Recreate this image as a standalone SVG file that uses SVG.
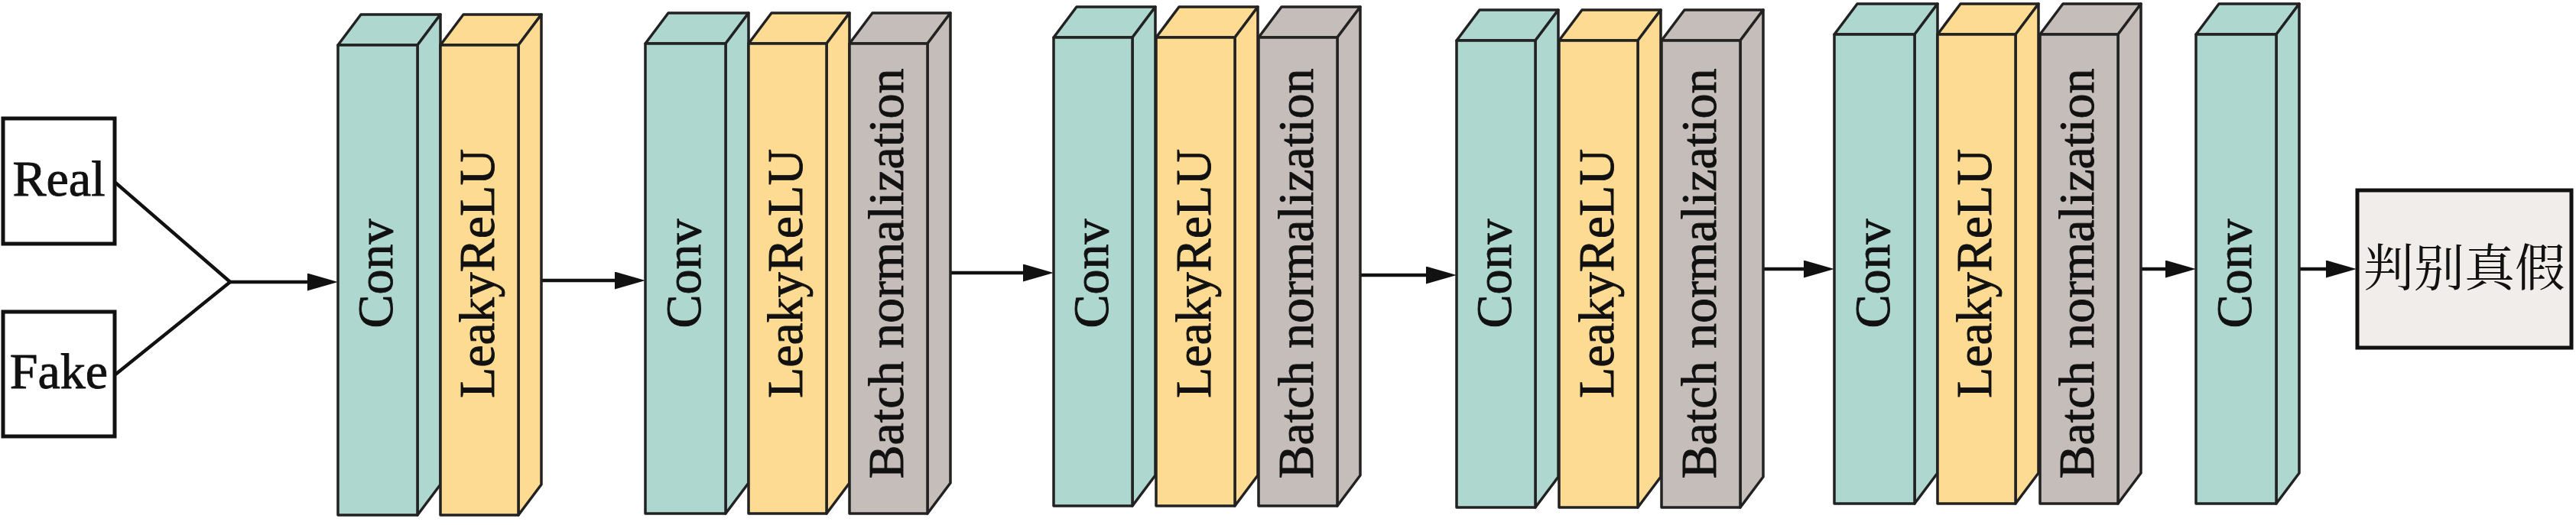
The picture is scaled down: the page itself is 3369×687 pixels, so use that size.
<svg xmlns="http://www.w3.org/2000/svg" width="3369" height="687" viewBox="0 0 3369 687">
<style>
.teal{fill:#add7cf}
.yel{fill:#fddb92}
.gry{fill:#c5bdba}
.blk rect,.blk polygon{stroke:#222;stroke-width:3.5;stroke-linejoin:round}
.lbl{font-family:"Liberation Serif","Times New Roman",serif;font-size:66px;fill:#111;stroke:#111;stroke-width:0.9;text-anchor:middle}
.io{fill:#fff;stroke:#111;stroke-width:5}
.con{stroke:#111;stroke-width:4.5;fill:none}
</style>
<defs>
<marker id="ah" markerUnits="userSpaceOnUse" markerWidth="40" markerHeight="24" refX="20" refY="11.5" orient="auto">
<path d="M0,0 L40,11.5 L0,23 Z" fill="#111"/>
</marker>
</defs>
<rect width="3369" height="687" fill="#fff"/>

<g id="real"><rect class="io" x="4" y="155" width="146" height="164"/><text class="lbl" x="77" y="256">Real</text></g>
<g id="fake"><rect class="io" x="4" y="408" width="146" height="163"/><text class="lbl" x="77" y="508">Fake</text></g>

<g id="connectors">
<polyline class="con" points="151,239 301,369 151,490"/>
<line class="con" x1="299" y1="369" x2="422" y2="369" marker-end="url(#ah)"/>
<line class="con" x1="708" y1="367" x2="824" y2="367" marker-end="url(#ah)"/>
<line class="con" x1="1243" y1="357" x2="1358" y2="357" marker-end="url(#ah)"/>
<line class="con" x1="1779" y1="360" x2="1885" y2="360" marker-end="url(#ah)"/>
<line class="con" x1="2306" y1="352" x2="2379" y2="352" marker-end="url(#ah)"/>
<line class="con" x1="2800" y1="352" x2="2852" y2="352" marker-end="url(#ah)"/>
<line class="con" x1="3007" y1="352" x2="3062" y2="352" marker-end="url(#ah)"/>
</g>

<g id="conv1" class="blk teal"><polygon points="442,59 472,19 576,19 546,59"/><polygon points="546,59 576,19 576,634 546,674"/><rect x="442" y="59" width="104" height="615"/><text class="lbl" transform="translate(513,358) rotate(-90)">Conv</text></g>
<g id="lrelu1" class="blk yel"><polygon points="576,59 606,19 708,19 678,59"/><polygon points="678,59 708,19 708,634 678,674"/><rect x="576" y="59" width="102" height="615"/><text class="lbl" transform="translate(646,358) rotate(-90)">LeakyReLU</text></g>

<g id="conv2" class="blk teal"><polygon points="844,57 874,17 979,17 949,57"/><polygon points="949,57 979,17 979,632 949,672"/><rect x="844" y="57" width="105" height="615"/><text class="lbl" transform="translate(915.5,358) rotate(-90)">Conv</text></g>
<g id="lrelu2" class="blk yel"><polygon points="979,57 1009,17 1111,17 1081,57"/><polygon points="1081,57 1111,17 1111,632 1081,672"/><rect x="979" y="57" width="102" height="615"/><text class="lbl" transform="translate(1049,358) rotate(-90)">LeakyReLU</text></g>
<g id="bn2" class="blk gry"><polygon points="1111,57 1141,17 1243,17 1213,57"/><polygon points="1213,57 1243,17 1243,632 1213,672"/><rect x="1111" y="57" width="102" height="615"/><text class="lbl" transform="translate(1181,358) rotate(-90)">Batch normalization</text></g>

<g id="conv3" class="blk teal"><polygon points="1378,49 1408,9 1511,9 1481,49"/><polygon points="1481,49 1511,9 1511,622 1481,662"/><rect x="1378" y="49" width="103" height="613"/><text class="lbl" transform="translate(1448.5,358) rotate(-90)">Conv</text></g>
<g id="lrelu3" class="blk yel"><polygon points="1512,49 1542,9 1645,9 1615,49"/><polygon points="1615,49 1645,9 1645,622 1615,662"/><rect x="1512" y="49" width="103" height="613"/><text class="lbl" transform="translate(1582.5,358) rotate(-90)">LeakyReLU</text></g>
<g id="bn3" class="blk gry"><polygon points="1646,49 1676,9 1779,9 1749,49"/><polygon points="1749,49 1779,9 1779,622 1749,662"/><rect x="1646" y="49" width="103" height="613"/><text class="lbl" transform="translate(1716.5,358) rotate(-90)">Batch normalization</text></g>

<g id="conv4" class="blk teal"><polygon points="1905,53 1935,13 2038,13 2008,53"/><polygon points="2008,53 2038,13 2038,624 2008,664"/><rect x="1905" y="53" width="103" height="611"/><text class="lbl" transform="translate(1975.5,358) rotate(-90)">Conv</text></g>
<g id="lrelu4" class="blk yel"><polygon points="2039,53 2069,13 2172,13 2142,53"/><polygon points="2142,53 2172,13 2172,624 2142,664"/><rect x="2039" y="53" width="103" height="611"/><text class="lbl" transform="translate(2109.5,358) rotate(-90)">LeakyReLU</text></g>
<g id="bn4" class="blk gry"><polygon points="2173,53 2203,13 2306,13 2276,53"/><polygon points="2276,53 2306,13 2306,624 2276,664"/><rect x="2173" y="53" width="103" height="611"/><text class="lbl" transform="translate(2243.5,358) rotate(-90)">Batch normalization</text></g>

<g id="conv5" class="blk teal"><polygon points="2399,45 2429,5 2534,5 2504,45"/><polygon points="2504,45 2534,5 2534,619 2504,659"/><rect x="2399" y="45" width="105" height="614"/><text class="lbl" transform="translate(2470.5,358) rotate(-90)">Conv</text></g>
<g id="lrelu5" class="blk yel"><polygon points="2534,45 2564,5 2666,5 2636,45"/><polygon points="2636,45 2666,5 2666,619 2636,659"/><rect x="2534" y="45" width="102" height="614"/><text class="lbl" transform="translate(2604,358) rotate(-90)">LeakyReLU</text></g>
<g id="bn5" class="blk gry"><polygon points="2668,45 2698,5 2800,5 2770,45"/><polygon points="2770,45 2800,5 2800,619 2770,659"/><rect x="2668" y="45" width="102" height="614"/><text class="lbl" transform="translate(2738,358) rotate(-90)">Batch normalization</text></g>

<g id="conv6" class="blk teal"><polygon points="2872,45 2902,5 3007,5 2977,45"/><polygon points="2977,45 3007,5 3007,619 2977,659"/><rect x="2872" y="45" width="105" height="614"/><text class="lbl" transform="translate(2943.5,358) rotate(-90)">Conv</text></g>

<g id="judge"><rect x="3083" y="249" width="280" height="206" fill="#f0edea" stroke="#111" stroke-width="5"/><text x="3223" y="374" font-family="'Noto Serif CJK SC','Noto Sans CJK SC',sans-serif" font-size="66" fill="#111" text-anchor="middle">判别真假</text></g>
</svg>
